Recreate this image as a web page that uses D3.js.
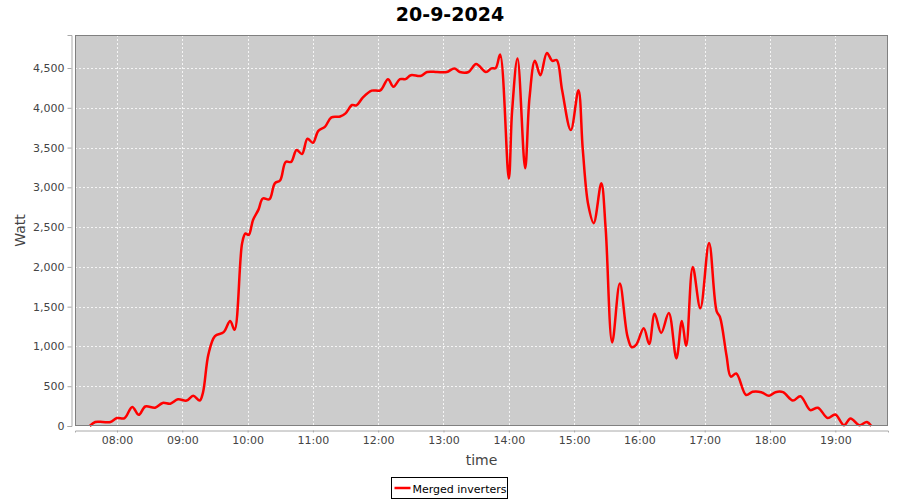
<!DOCTYPE html>
<html>
<head>
<meta charset="utf-8">
<script src="https://cdn.jsdelivr.net/npm/d3@7"></script>
<style>
  body { margin:0; background:#fff; }
  #canvas { width:900px; height:500px; }
  text { font-family: "DejaVu Sans", sans-serif; }
</style>
</head>
<body>
<div id="canvas" class="canvas"></div>
<script>
// --- data (time of day, watt)
var title = "20-9-2024";
var seriesName = "Merged inverters";
var times = ["07:35","07:40","07:47","07:54","08:00","08:07","08:14","08:20","08:26","08:35",
             "08:42","08:49","08:56","09:04","09:10","09:16","09:19","09:24","09:30","09:38",
             "09:44","09:48","09:55","09:58","10:01","10:05","10:10","10:14","10:20","10:25",
             "10:30","10:35","10:40","10:45","10:50","10:55","11:00","11:05","11:11","11:17",
             "11:25","11:30","11:36","11:40","11:46","11:54","12:02","12:09","12:14","12:20",
             "12:25","12:30","12:39","12:45","12:54","13:03","13:10","13:15","13:23","13:30",
             "13:39","13:44","13:48","13:52","14:00","14:03","14:08","14:15","14:19","14:24",
             "14:29","14:35","14:40","14:44","14:49","14:57","15:04","15:08","15:13","15:18",
             "15:25","15:29","15:35","15:42","15:49","15:53","15:57","16:04","16:09","16:14",
             "16:20","16:27","16:34","16:39","16:43","16:49","16:56","17:04","17:11","17:14",
             "17:20","17:24","17:29","17:38","17:44","17:52","17:59","18:05","18:12","18:21",
             "18:28","18:37","18:44","18:53","19:00","19:08","19:14","19:22","19:29","19:33"];
var watts = [0,50,50,50,100,100,240,140,245,230,
             290,280,335,320,380,320,420,900,1130,1180,
             1320,1210,2300,2420,2400,2590,2720,2860,2850,3050,
             3090,3320,3320,3470,3420,3610,3560,3710,3760,3880,
             3890,3930,4035,4030,4130,4215,4220,4360,4265,4360,
             4360,4410,4400,4450,4450,4450,4495,4450,4450,4550,
             4450,4495,4500,4670,3110,3950,4620,3240,4120,4590,
             4410,4690,4590,4600,4220,3720,4220,3470,2780,2550,
             3050,2480,1050,1790,1130,990,1020,1230,1030,1410,
             1170,1420,850,1320,1010,2000,1480,2300,1440,1370,
             890,620,660,390,430,425,380,425,425,320,
             375,200,230,100,145,10,95,10,50,0];
var xRange = ["07:21:25","19:48:25"];
var yMax = 4915;
var yTicks = [0,500,1000,1500,2000,2500,3000,3500,4000,4500];

// --- Margin convention (plot area in pixels)
var M = {top:35, right:12, bottom:74, left:75};
var outerWidth = 900, outerHeight = 500;
var w = outerWidth - M.left - M.right,
    h = outerHeight - M.top - M.bottom;

var svg = d3.select('.canvas')
  .append('svg')
  .attr('width', outerWidth)
  .attr('height', outerHeight);

var plot = svg.append('g')
  .attr('transform','translate(' + M.left + ',' + M.top + ')');

// --- Create SCALE
var parseT = d3.timeParse("%H:%M");
var parseTs = d3.timeParse("%H:%M:%S");

var scaleX = d3.scaleTime()
  .range([0, w])
  .domain(xRange.map(function(d){ return parseTs(d); }));

var scaleY = d3.scaleLinear()
  .range([h, 0])
  .domain([0, yMax]);

var data = times.map(function(t,i){ return {t: parseT(t), v: watts[i]}; });

// --- background + grid
plot.append('rect')
  .attr('width', w)
  .attr('height', h)
  .attr('fill', '#cccccc');

plot.append('g')
  .selectAll('line')
  .data(yTicks)
  .enter()
  .append('line')
  .attr('x1', 0).attr('x2', w)
  .attr('y1', function(d){ return Math.round(scaleY(d)) + 0.5; })
  .attr('y2', function(d){ return Math.round(scaleY(d)) + 0.5; })
  .attr('stroke', '#ffffff')
  .attr('stroke-width', 0.8)
  .attr('stroke-dasharray', '2,2');

plot.append('g')
  .selectAll('line')
  .data(scaleX.ticks(d3.timeHour.every(1)))
  .enter()
  .append('line')
  .attr('y1', 0).attr('y2', h)
  .attr('x1', function(d){ return Math.round(scaleX(d)) + 0.5; })
  .attr('x2', function(d){ return Math.round(scaleX(d)) + 0.5; })
  .attr('stroke', '#ffffff')
  .attr('stroke-width', 0.8)
  .attr('stroke-dasharray', '2,2');

// --- the line
var line = d3.line()
  .x(function(d){ return scaleX(d.t); })
  .y(function(d){ return scaleY(d.v); })
  .curve(d3.curveCatmullRom.alpha(0.5));

plot.append('path')
  .attr('d', line(data))
  .attr('fill', 'none')
  .attr('stroke', '#ff0000')
  .attr('stroke-width', 2.5)
  .attr('stroke-linejoin', 'round');

// --- plot outline
plot.append('rect')
  .attr('x', 0.5).attr('y', 0.5)
  .attr('width', w - 1)
  .attr('height', h - 1)
  .attr('fill', 'none')
  .attr('stroke', '#808080')
  .attr('stroke-width', 1);

// --- axes (offset a few px from the plot like JFreeChart)
var yAxis = d3.axisLeft(scaleY)
  .tickValues(yTicks)
  .tickSize(4)
  .tickPadding(3)
  .tickFormat(d3.format(','));

var gy = svg.append('g')
  .attr('transform', 'translate(' + (M.left - 3.5) + ',' + M.top + ')')
  .call(yAxis);

var xAxis = d3.axisBottom(scaleX)
  .ticks(d3.timeHour.every(1))
  .tickSize(2)
  .tickPadding(4)
  .tickFormat(d3.timeFormat('%H:%M'));

var gx = svg.append('g')
  .attr('transform', 'translate(' + M.left + ',' + (M.top + h + 4.5) + ')')
  .call(xAxis);

[gx, gy].forEach(function(g){
  g.select('.domain').attr('stroke', '#a8a8a8');
  g.selectAll('.tick line').attr('stroke', '#a8a8a8');
  g.selectAll('.tick text')
    .attr('fill', '#444444')
    .attr('font-size', '11px')
    .attr('font-family', '"DejaVu Sans", sans-serif');
});

// --- titles
svg.append('text')
  .attr('x', 450)
  .attr('y', 21)
  .attr('text-anchor', 'middle')
  .attr('font-size', '19px')
  .attr('font-weight', 'bold')
  .attr('fill', '#000')
  .text(title);

svg.append('text')
  .attr('x', M.left + w / 2)
  .attr('y', 465)
  .attr('text-anchor', 'middle')
  .attr('font-size', '14px')
  .attr('fill', '#444444')
  .text('time');

svg.append('text')
  .attr('transform', 'translate(25,' + (M.top + h / 2) + ') rotate(-90)')
  .attr('text-anchor', 'middle')
  .attr('font-size', '14px')
  .attr('fill', '#444444')
  .text('Watt');

// --- legend
var legend = svg.append('g').attr('transform', 'translate(391.5,477.5)');
legend.append('rect')
  .attr('width', 116)
  .attr('height', 21)
  .attr('fill', '#fff')
  .attr('stroke', '#000')
  .attr('stroke-width', 1);
legend.append('line')
  .attr('x1', 3).attr('x2', 19)
  .attr('y1', 10.5).attr('y2', 10.5)
  .attr('stroke', '#ff0000')
  .attr('stroke-width', 2.5);
legend.append('text')
  .attr('x', 21)
  .attr('y', 15)
  .attr('font-size', '11px')
  .attr('fill', '#000')
  .text(seriesName);
</script>
</body>
</html>
